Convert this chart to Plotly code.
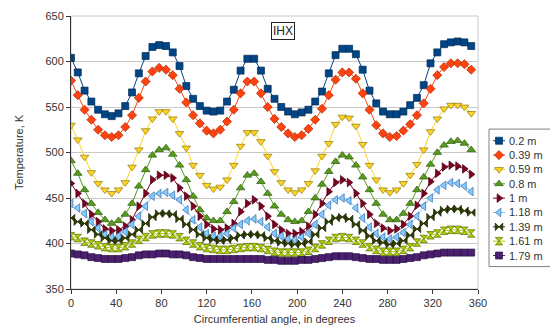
import plotly.graph_objects as go

angles = [0, 6, 12, 18, 24, 30, 36, 42, 48, 54, 60, 66, 72, 78, 84, 90, 96, 102, 108, 114,
          120, 126, 132, 138, 144, 150, 156, 162, 168, 174, 180, 186, 192, 198, 204, 210, 216, 222, 228, 234,
          240, 246, 252, 258, 264, 270, 276, 282, 288, 294, 300, 306, 312, 318, 324, 330, 336, 342, 348, 354]

labels = ["0.2 m", "0.39 m", "0.59 m", "0.8 m", "1 m", "1.18 m", "1.39 m", "1.61 m", "1.79 m"]

t_020 = [604, 588, 568, 556, 547, 542, 540, 543, 551, 566, 587, 606, 616, 618, 617, 610, 595, 573, 559, 551,
         546, 545, 546, 556, 569, 590, 603, 603, 590, 570, 559, 550, 545, 542, 544, 547, 556, 567, 587, 607,
         614, 614, 608, 591, 568, 554, 545, 542, 542, 545, 552, 560, 574, 598, 610, 619, 621, 622, 621, 617]
t_039 = [579, 563, 547, 536, 525, 519, 517, 519, 528, 541, 560, 578, 589, 593, 591, 585, 570, 555, 541, 532,
         524, 521, 525, 534, 547, 565, 578, 578, 565, 550, 537, 528, 521, 517, 519, 526, 536, 548, 563, 580,
         588, 588, 581, 565, 547, 530, 521, 517, 518, 524, 531, 541, 554, 570, 585, 594, 598, 598, 597, 591]
t_059 = [530, 514, 495, 478, 466, 459, 455, 459, 467, 484, 503, 524, 537, 545, 545, 537, 521, 505, 486, 475,
         464, 460, 462, 470, 486, 507, 522, 522, 512, 496, 479, 467, 459, 456, 459, 466, 480, 496, 510, 531,
         539, 538, 529, 509, 486, 470, 459, 456, 459, 466, 475, 487, 503, 523, 537, 548, 552, 552, 550, 543]
t_080 = [491, 477, 459, 444, 434, 426, 422, 425, 432, 444, 463, 481, 497, 503, 505, 498, 486, 470, 452, 437,
         428, 425, 425, 435, 446, 461, 475, 477, 468, 455, 441, 432, 426, 424, 425, 435, 450, 465, 479, 490,
         497, 495, 486, 473, 459, 444, 432, 426, 426, 433, 444, 459, 473, 487, 500, 508, 512, 513, 510, 503]
t_100 = [466, 455, 444, 432, 424, 416, 414, 415, 419, 426, 441, 455, 470, 475, 475, 472, 461, 452, 441, 430,
         421, 416, 415, 417, 422, 435, 444, 448, 441, 430, 421, 415, 411, 411, 413, 419, 432, 444, 457, 467,
         470, 467, 455, 444, 432, 422, 417, 414, 416, 421, 430, 442, 455, 468, 477, 484, 486, 485, 482, 476]
t_118 = [444, 439, 433, 424, 417, 410, 407, 408, 413, 421, 430, 441, 452, 455, 456, 453, 448, 437, 426, 418,
         411, 408, 408, 411, 417, 421, 425, 427, 424, 418, 411, 408, 405, 404, 407, 411, 421, 432, 442, 448,
         450, 447, 439, 428, 418, 411, 407, 405, 407, 412, 421, 430, 441, 450, 459, 464, 467, 466, 463, 457]
t_139 = [428, 424, 422, 415, 410, 406, 403, 403, 406, 410, 415, 422, 429, 433, 433, 432, 427, 421, 415, 410,
         406, 404, 403, 404, 406, 409, 410, 410, 409, 406, 403, 401, 400, 399, 400, 402, 410, 417, 424, 428,
         429, 427, 421, 414, 408, 403, 401, 399, 400, 403, 409, 416, 422, 429, 434, 437, 438, 438, 436, 434]
t_161 = [408, 406, 402, 400, 398, 396, 395, 395, 397, 400, 404, 407, 410, 411, 411, 410, 407, 403, 400, 397,
         395, 394, 393, 393, 394, 395, 396, 396, 395, 393, 391, 390, 390, 390, 390, 392, 395, 399, 403, 406,
         407, 406, 403, 400, 396, 393, 391, 391, 391, 393, 396, 401, 405, 409, 411, 414, 415, 415, 414, 411]
t_179 = [389, 388, 387, 385, 384, 383, 383, 383, 384, 385, 387, 388, 388, 389, 389, 388, 388, 387, 385, 384,
         383, 383, 383, 383, 383, 383, 383, 383, 383, 382, 382, 381, 381, 381, 382, 382, 383, 384, 385, 386,
         386, 386, 385, 384, 383, 383, 382, 382, 382, 383, 384, 385, 387, 388, 389, 390, 390, 390, 390, 390]

series = [t_020, t_039, t_059, t_080, t_100, t_118, t_139, t_161, t_179]
colors = ["#004586", "#ff420e", "#ffd320", "#579d1c", "#7e0021", "#83caff", "#314004", "#aecf00", "#4b1f6f"]
edges = ["#002a55", "#a82a06", "#8a7a10", "#2f5a0c", "#4a0013", "#3a6fa8", "#1a2302", "#5a6a00", "#2a1040"]
symbols = ["square", "diamond", "triangle-down", "triangle-up", "triangle-right", "triangle-left",
           "bowtie", "hourglass", "square"]
sizes = [7, 7, 7.5, 7.5, 7.5, 7.5, 7.5, 7.5, 7]

font_family = "Liberation Sans, Arial, sans-serif"

# layout geometry in page pixels; the page body adds an 8 px offset
OFF = 8
W, H = 558 - OFF, 334 - OFF
plot_l, plot_r, plot_t, plot_b = 71, 478, 15.5, 289.5
area_r = 554
leg_l, leg_r, leg_t, leg_b = 489, 552, 129, 267
ML, MT = plot_l - OFF, plot_t - OFF
MR = W - (area_r - OFF)
MB = H - (plot_b - OFF)
PW = W - ML - MR
PH = H - MT - MB
leg_w, leg_h = leg_r - leg_l, leg_b - leg_t
leg_first, leg_step = 11.7, 14.4

fig = go.Figure()
for lab, ys, c, e, s, sz in zip(labels, series, colors, edges, symbols, sizes):
    fig.add_trace(go.Scatter(
        x=angles, y=ys, name=lab, mode="lines+markers", showlegend=False,
        line=dict(color=c, width=1),
        marker=dict(symbol=s, size=sz, color=c, line=dict(color=e, width=0.7)),
        xaxis="x", yaxis="y",
    ))

# custom legend drawn on its own small axes
annotations = []
for i, (lab, c, e, s, sz) in enumerate(zip(labels, colors, edges, symbols, sizes)):
    yc = leg_first + leg_step * i
    fig.add_trace(go.Scatter(
        x=[4, 16], y=[yc, yc], mode="lines", showlegend=False, hoverinfo="skip",
        line=dict(color=c, width=1), xaxis="x2", yaxis="y2",
    ))
    fig.add_trace(go.Scatter(
        x=[10], y=[yc], mode="markers", showlegend=False, hoverinfo="skip",
        marker=dict(symbol=s, size=sz, color=c, line=dict(color=e, width=0.7)),
        xaxis="x2", yaxis="y2",
    ))
    annotations.append(dict(
        text=lab, x=18, y=yc, xref="x2", yref="y2", xanchor="left", yanchor="middle",
        showarrow=False, font=dict(size=11, color="#333333"),
    ))

annotations.append(dict(
    text="IHX", xref="x", yref="y", x=187.5, y=634,
    showarrow=False, font=dict(size=12, color="#222222"),
    bordercolor="#222222", borderwidth=1, borderpad=1, bgcolor="white",
))

fig.update_layout(
    width=W, height=H,
    margin=dict(l=ML, r=MR, t=MT, b=MB, autoexpand=False),
    paper_bgcolor="white", plot_bgcolor="white",
    font=dict(family=font_family, size=11, color="#333333"),
    showlegend=False,
    xaxis=dict(
        domain=[0, (plot_r - plot_l) / PW],
        range=[0, 360], tickmode="array", tickvals=[0, 40, 80, 120, 160, 200, 240, 280, 320, 360],
        showgrid=False, zeroline=False, showline=True, linecolor="#333333", linewidth=1,
        ticks="outside", ticklen=4, tickcolor="#333333",
        title=dict(text="Circumferential angle, in degrees", font=dict(size=11), standoff=7),
    ),
    yaxis=dict(
        domain=[0, 1],
        range=[350, 650], tickmode="array", tickvals=[350, 400, 450, 500, 550, 600, 650],
        showgrid=True, gridcolor="#c8c8c8", gridwidth=1, zeroline=False,
        showline=True, linecolor="#333333", linewidth=1,
        ticks="outside", ticklen=4, tickcolor="#333333",
        title=dict(text="Temperature, K", font=dict(size=11), standoff=19),
    ),
    xaxis2=dict(
        domain=[(leg_l - plot_l) / PW, (leg_r - plot_l) / PW], range=[0, leg_w], anchor="y2",
        visible=False, fixedrange=True,
    ),
    yaxis2=dict(
        domain=[1 - (leg_b - plot_t) / PH, 1 - (leg_t - plot_t) / PH], range=[leg_h, 0], anchor="x2",
        visible=False, fixedrange=True,
    ),
    shapes=[
        dict(type="rect", xref="x domain", yref="y domain", x0=0, x1=1, y0=0, y1=1,
             line=dict(color="#c8c8c8", width=1), layer="below"),
        dict(type="rect", xref="x2 domain", yref="y2 domain", x0=0, x1=1, y0=0, y1=1,
             line=dict(color="#808080", width=1), fillcolor="white", layer="below"),
    ],
    annotations=annotations,
)

fig.write_html("out.html")
